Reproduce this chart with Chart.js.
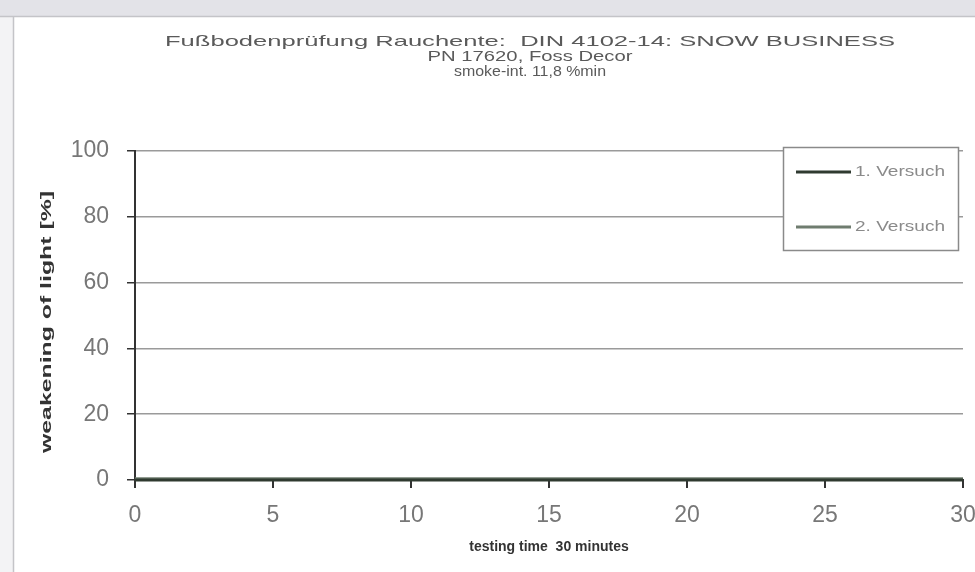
<!DOCTYPE html>
<html lang="de">
<head>
    <meta charset="UTF-8">
    <title>Fußbodenprüfung Rauchentwicklung</title>
    <script src="https://cdn.jsdelivr.net/npm/chart.js@4.4.1/dist/chart.umd.min.js"></script>
    <style>
        html, body { margin: 0; padding: 0; background: #ffffff; }
        #wrap { position: relative; width: 975px; height: 572px; }
    </style>
</head>
<body>
    <div id="wrap">
        <canvas id="smokeChart" width="975" height="572"></canvas>
    </div>

    <script>
        // chart data
        const titleLines = [
            'Fußbodenprüfung Rauchente:  DIN 4102-14: SNOW BUSINESS',
            'PN 17620, Foss Decor',
            'smoke-int. 11,8 %min'
        ];
        const timeMinutes = [0, 1, 2, 3, 4, 5, 6, 7, 8, 9, 10, 11, 12, 13, 14, 15,
                             16, 17, 18, 19, 20, 21, 22, 23, 24, 25, 26, 27, 28, 29, 30];
        const versuch1 = [0, 0, 0, 0, 0, 0, 0, 0, 0, 0, 0, 0, 0, 0, 0, 0,
                          0, 0, 0, 0, 0, 0, 0, 0, 0, 0, 0, 0, 0, 0, 0];
        const versuch2 = [0.5, 0.5, 0.5, 0.5, 0.5, 0.5, 0.5, 0.5, 0.5, 0.5, 0.5, 0.5, 0.5, 0.5, 0.5, 0.5,
                          0.5, 0.5, 0.5, 0.5, 0.5, 0.5, 0.5, 0.5, 0.5, 0.5, 0.5, 0.5, 0.5, 0.5, 0.5];
        const seriesLabels = ['1. Versuch', '2. Versuch'];
        const xTicks = [0, 5, 10, 15, 20, 25, 30];
        const yTicks = [0, 20, 40, 60, 80, 100];
        const xTitle = 'testing time  30 minutes';
        const yTitle = 'weakening of light [%]';

        const toPoints = vals => timeMinutes.map((t, i) => ({ x: t, y: vals[i] }));

        // draws text squeezed/stretched to a given length (the source picture is distorted)
        function stretchText(ctx, text, cx, cy, length, font, color, angle) {
            ctx.save();
            ctx.font = font;
            ctx.fillStyle = color;
            ctx.textAlign = 'center';
            ctx.textBaseline = 'middle';
            const w = ctx.measureText(text).width;
            ctx.translate(cx, cy);
            if (angle) ctx.rotate(angle);
            ctx.scale(length / w, 1);
            ctx.fillText(text, 0, 0);
            ctx.restore();
        }

        // frame, title and y title
        const decorPlugin = {
            id: 'decor',
            beforeDraw(chart) {
                const ctx = chart.ctx;
                ctx.save();
                ctx.fillStyle = '#ffffff';
                ctx.fillRect(0, 0, chart.width, chart.height);
                ctx.fillStyle = '#e3e3e8';
                ctx.fillRect(0, 0, chart.width, 16);
                ctx.fillStyle = '#f3f3f5';
                ctx.fillRect(0, 16, 13, chart.height - 16);
                ctx.strokeStyle = '#c4c4c8';
                ctx.lineWidth = 1.5;
                ctx.beginPath();
                ctx.moveTo(0, 16.5);
                ctx.lineTo(chart.width, 16.5);
                ctx.moveTo(13.5, 16);
                ctx.lineTo(13.5, chart.height);
                ctx.stroke();
                ctx.restore();

                const widths = [730, 205, 152];
                const ys = [42, 57, 72];
                titleLines.forEach((line, i) => {
                    stretchText(ctx, line, 530, ys[i], widths[i], '15px "Liberation Sans"', '#5a5a5a');
                });
                stretchText(ctx, yTitle, 47, 322, 262, 'bold 15px "Liberation Sans"', '#333333', -Math.PI / 2);
            },
            afterDatasetsDraw(chart) {
                // legend box inside the plot, top right
                const ctx = chart.ctx;
                ctx.save();
                ctx.fillStyle = '#ffffff';
                ctx.fillRect(783, 147, 175, 103);
                ctx.strokeStyle = '#8a8a8a';
                ctx.lineWidth = 1.5;
                ctx.strokeRect(783.5, 147.5, 175, 103);
                const rows = [172, 227];
                chart.data.datasets.forEach((ds, i) => {
                    ctx.strokeStyle = ds.borderColor;
                    ctx.lineWidth = 3;
                    ctx.beginPath();
                    ctx.moveTo(796, rows[i]);
                    ctx.lineTo(851, rows[i]);
                    ctx.stroke();
                    stretchText(ctx, ds.label, 900, rows[i], 90, '14px "Liberation Sans"', '#8a8a8a');
                });
                ctx.restore();
            }
        };

        const ctx = document.getElementById('smokeChart').getContext('2d');
        new Chart(ctx, {
            type: 'line',
            data: {
                datasets: [
                    {
                        label: seriesLabels[0],
                        data: toPoints(versuch1),
                        borderColor: '#2f3a30',
                        borderWidth: 3,
                        pointRadius: 0,
                        clip: false
                    },
                    {
                        label: seriesLabels[1],
                        data: toPoints(versuch2),
                        borderColor: '#6f7c6f',
                        borderWidth: 2,
                        pointRadius: 0,
                        clip: false
                    }
                ]
            },
            options: {
                responsive: false,
                animation: false,
                layout: { padding: { left: 20, right: 12, top: 151, bottom: 10 } },
                plugins: {
                    legend: { display: false },
                    title: { display: false },
                    tooltip: { enabled: false }
                },
                scales: {
                    x: {
                        type: 'linear',
                        min: 0,
                        max: 30,
                        afterBuildTicks: scale => { scale.ticks = xTicks.map(v => ({ value: v })); },
                        afterFit: scale => { scale.height = 82; scale.paddingRight = 0; },
                        grid: { drawOnChartArea: false, drawTicks: true, tickLength: 8, color: '#333333', lineWidth: 2 },
                        border: { color: '#333333', width: 2 },
                        ticks: {
                            padding: 14,
                            color: '#777777',
                            font: { family: 'Liberation Sans', size: 23 }
                        },
                        title: {
                            display: true,
                            text: xTitle,
                            color: '#333333',
                            font: { family: 'Liberation Sans', size: 14, weight: 'bold' },
                            padding: { top: 0, bottom: 6 }
                        }
                    },
                    y: {
                        min: 0,
                        max: 100,
                        afterBuildTicks: scale => { scale.ticks = yTicks.map(v => ({ value: v })); },
                        afterFit: scale => { scale.width = 115; },
                        grid: {
                            color: ctx => ctx.tick && ctx.tick.value === 0 ? '#333333' : '#9a9a9a',
                            lineWidth: 1.5,
                            tickLength: 8,
                            tickColor: '#333333'
                        },
                        border: { color: '#333333', width: 2 },
                        ticks: {
                            padding: 18,
                            color: '#777777',
                            font: { family: 'Liberation Sans', size: 23 }
                        }
                    }
                }
            },
            plugins: [decorPlugin]
        });
    </script>
</body>
</html>
